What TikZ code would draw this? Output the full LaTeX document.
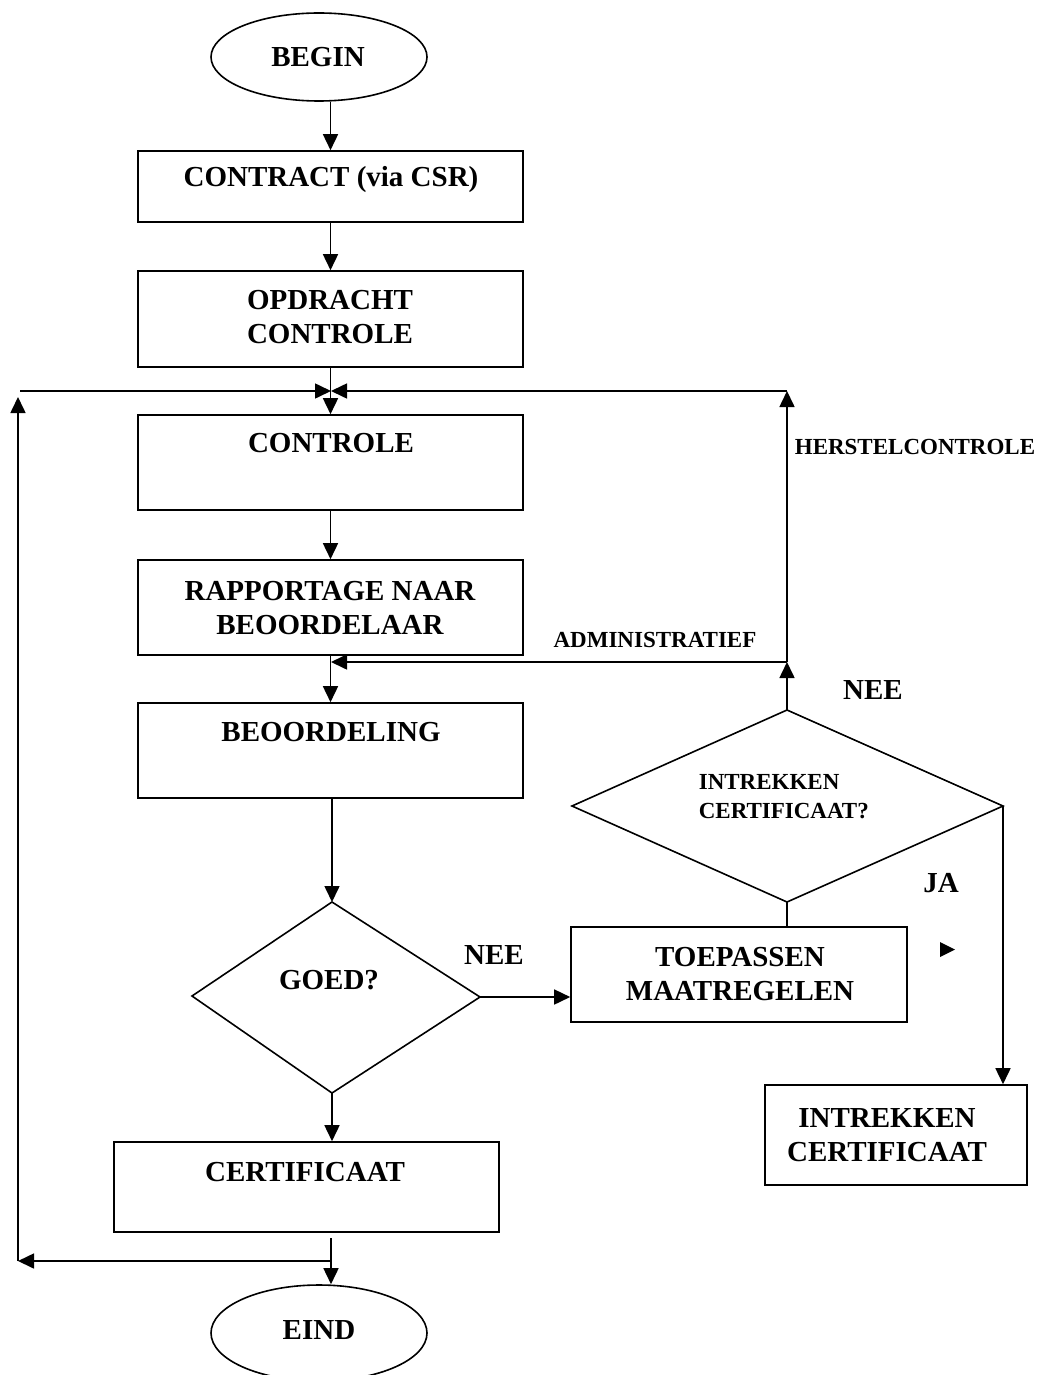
\documentclass[tikz,border=0pt]{standalone}
\usepackage{fontspec}
\setmainfont{Liberation Serif}
\usetikzlibrary{arrows.meta,shapes.geometric,calc}
\begin{document}
\begin{tikzpicture}[x=1pt,y=-1pt,
  line width=1.6pt,
  big/.style={font=\fontsize{29}{34}\selectfont\bfseries, inner sep=0pt, align=center},
  small/.style={font=\fontsize{23}{29}\selectfont\bfseries, inner sep=0pt, align=left},
  box/.style={draw, rectangle, inner sep=0pt},
  oval/.style={draw, ellipse, inner sep=0pt, minimum width=216pt},
  arr/.style={-{Triangle[length=16pt,width=15pt]}},
]
\useasboundingbox (0,0) rectangle (1047,1375);

% ovals
\node[oval, minimum height=88pt] (begin) at (319,57) {};
\node[big] (tbegin) at (318,57) {BEGIN};
\node[oval, minimum height=96pt] (eind) at (319,1333) {};
\node[big] (teind) at (319,1330) {EIND};

% main column boxes
\node[box, minimum width=385pt, minimum height=71pt] (contract) at (330.5,186.5) {};
\node[big] (tcontract) at (331,180) {CONTRACT (via CSR)};
\node[box, minimum width=385pt, minimum height=96pt] (opdr) at (330.5,319) {};
\node[big] (topdr) at (330,317) {OPDRACHT\\CONTROLE};
\node[box, minimum width=385pt, minimum height=95pt] (ctrl) at (330.5,462.5) {};
\node[big] (tctrl) at (331,443) {CONTROLE};
\node[box, minimum width=385pt, minimum height=95pt] (rapp) at (330.5,607.5) {};
\node[big] (trapp) at (330,608) {RAPPORTAGE NAAR\\BEOORDELAAR};
\node[box, minimum width=385pt, minimum height=95pt] (beoord) at (330.5,750.5) {};
\node[big] (tbeoord) at (331,732) {BEOORDELING};
\node[box, minimum width=385pt, minimum height=90pt] (cert) at (306.5,1187) {};
\node[big] (tcert) at (305,1172) {CERTIFICAAT};

% right boxes
\node[box, minimum width=336pt, minimum height=95pt] (toep) at (739,974.5) {};
\node[big] (ttoep) at (740,974) {TOEPASSEN\\MAATREGELEN};
\node[box, minimum width=262pt, minimum height=100pt] (intr) at (896,1135) {};
\node[big] (tintr) at (887,1135) {INTREKKEN\\CERTIFICAAT};

% diamond GOED?
\coordinate (gn) at (332,902);
\coordinate (ge) at (480,997);
\coordinate (gs) at (332,1093);
\coordinate (gw) at (192,996);
\draw (gn) -- (ge) -- (gs) -- (gw) -- cycle;
\node[big] (tgoed) at (329,980) {GOED?};

% diamond INTREKKEN CERTIFICAAT?
\coordinate (dn) at (787,710);
\coordinate (de) at (1003,806);
\coordinate (ds) at (787,902);
\coordinate (dw) at (572,806);
\draw (dn) -- (de) -- (ds) -- (dw) -- cycle;
\node[small, anchor=west] (tdia) at (698,797) {INTREKKEN\\CERTIFICAAT?};

% labels
\node[big] (nee1) at (873,690) {NEE};
\node[big] (nee2) at (494,955) {NEE};
\node[big] (ja) at (941,883) {JA};
\node[small] (adm) at (655,640) {ADMINISTRATIEF};
\node[small] (herst) at (915,447) {HERSTELCONTROLE};

% junction coordinates
\coordinate (jt) at (331,391);
\coordinate (jtl) at (20,391);
\coordinate (lt) at (18,397);
\coordinate (lb) at (18,1261);
\coordinate (jb) at (331,1261);
\coordinate (cb) at (331,1238);
\coordinate (rt) at (787,391);
\coordinate (rm) at (787,662);
\coordinate (jm) at (331,662);

% main flow
\draw[arr] (begin.south -| contract.north) -- (contract.north);
\draw[arr] (contract.south) -- (opdr.north);
\draw[arr] (opdr.south) -- (ctrl.north);
\draw[arr] (ctrl.south) -- (rapp.north);
\draw[arr] (rapp.south) -- (beoord.north);
\draw[arr] (gn |- beoord.south) -- (gn);
\draw[arr] (gs) -- (gs |- cert.north);
\draw[arr] (ge) -- (ge -| toep.west);
\draw (ds) -- (ds |- toep.north);
\draw[arr] (de) -- (de |- intr.north);

% bottom loop back
\draw[arr] (cb) -- (cb |- eind.north);
\draw[arr] (jb) -- (lb);
\draw[arr] (lb) -- (lt);
\draw[arr] (jtl) -- (jt);

% right feedback
\draw[arr] (dn) -- (rm);
\draw[arr] (rm) -- (rt);
\draw[arr] (rt) -- (jt);
\draw[arr] (rm) -- (jm);

% stray arrowhead
\fill (940,942) -- (955,949.5) -- (940,957) -- cycle;
\end{tikzpicture}
\end{document}
